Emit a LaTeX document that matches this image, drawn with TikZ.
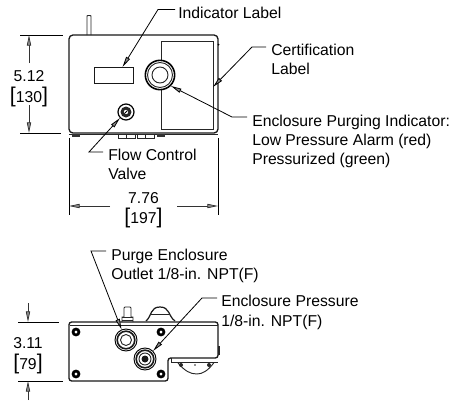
\documentclass[tikz,border=0pt]{standalone}
\usepackage{fontspec}
\setmainfont{Liberation Sans}
\usetikzlibrary{arrows.meta}
\tikzset{
  lbl/.style={inner sep=0pt,anchor=base west,font=\fontsize{11.8}{14}\selectfont},
  dimt/.style={inner sep=0pt,anchor=center,font=\fontsize{11.8}{14}\selectfont},
  tip/.style={-{Stealth[length=8pt,width=3.2pt,inset=0pt,open,fill=black!45]}},
  leader/.style={tip,line width=0.6pt},
  ext/.style={line width=0.7pt},
  dimline/.style={tip,line width=0.55pt,black!80},
  body/.style={line width=1pt,black!90},
  thin part/.style={line width=0.7pt,black!85},
}
\newcommand{\bk}[1]{{\fontsize{16}{16}\selectfont[}#1{\fontsize{16}{16}\selectfont]}}
\begin{document}
\begin{tikzpicture}[x=0.75pt,y=-0.75pt]
\useasboundingbox (0,0) rectangle (451,401);
% ---------- top view
\draw[thin part] (87,35) -- (87,16) -- (88,15.5) -- (90,15.5) -- (91,16) -- (91,35);
\draw[body,rounded corners=3pt] (69,133) -- (69,35) -- (218,35) -- (218,133) -- cycle;
\draw[thin part] (69,134.5) -- (218,134.5);
\fill[black!80] (72,134) rectangle (80,136.5);
\fill[black!80] (157,134) rectangle (165,136.5);
\draw[thin part] (118,134.5) rectangle (135,138) (137,134.5) rectangle (154,138) (126,134.5) -- (126,138) (145,134.5) -- (145,138);
\fill (218.5,44.5) circle (1);
\draw[thin part] (161,60) -- (161,41) -- (213,41) -- (213,129) -- (161,129) -- (161,90);
\node[draw,line width=0.7pt,black!90,minimum width=29.25pt,minimum height=12pt,inner sep=0pt] (ind) at (113.5,75) {};
\node[circle,draw,line width=1.2pt,minimum size=22pt,inner sep=0pt] (pi) at (160,75) {};
\draw[thin part] (160,75) circle (8);
\draw[thin part] (160,75) circle (12.5);
\node[circle,draw,line width=0.9pt,minimum size=12pt,inner sep=0pt] (fv) at (126,112) {};
\fill[black!85] (126,112) circle (5.5);
\fill[white] (126,112) circle (2.2);
\draw[line width=0.6pt] (124.5,113.5) -- (127.5,110.5);
% ---------- top view labels
\node[lbl] (tInd) at (178,18) {Indicator Label};
\node[lbl] (tCert) at (271,55) {Certification};
\node[lbl] at (271,74) {Label};
\node[lbl] (tEnc) at (252,126) {Enclosure Purging Indicator:};
\node[lbl] at (252,145) {Low Pressure Alarm (red)};
\node[lbl] at (252,164) {Pressurized (green)};
\node[lbl] (tFlow) at (108,160.5) {Flow Control};
\node[lbl] at (108,179.5) {Valve};
\coordinate (a1) at (175,9.5); \coordinate (a2) at (158,9.5); \coordinate (a3) at (122.5,67);
\draw[leader] (a1) -- (a2) -- (a3);
\coordinate (b1) at (266,47); \coordinate (b2) at (252,47); \coordinate (b3) at (213,87);
\draw[leader] (b1) -- (b2) -- (b3);
\coordinate (c1) at (247,117); \coordinate (c2) at (232,117);
\draw[leader] (c1) -- (c2) -- (pi.-45);
\coordinate (d1) at (103,152); \coordinate (d2) at (89,152);
\draw[leader] (d1) -- (d2) -- (fv.-135);
% ---------- dims top view
\coordinate (e1) at (20,35); \coordinate (e2) at (63,35); \coordinate (e3) at (20,133); \coordinate (e4) at (61,133);
\draw[ext] (e1) -- (e2) (e3) -- (e4);
\node[dimt] (d512) at (29,76) {5.12};
\node[dimt] (d130) at (29,96.5) {\bk{130}};
\coordinate (e5) at (29,35); \coordinate (e6) at (29,133);
\coordinate (e7) at (29,63); \coordinate (e8) at (29,105);
\draw[dimline] (e7) -- (e5);
\draw[dimline] (e8) -- (e6);
\coordinate (f1) at (69,138); \coordinate (f2) at (69,215); \coordinate (f3) at (218,138); \coordinate (f4) at (218,215);
\draw[ext] (f1) -- (f2) (f3) -- (f4);
\node[dimt] (d776) at (143.5,198) {7.76};
\node[dimt] (d197) at (143.5,218) {\bk{197}};
\coordinate (f5) at (69,206); \coordinate (f6) at (218,206);
\coordinate (f7) at (110,206); \coordinate (f8) at (177,206);
\draw[dimline] (f7) -- (f5);
\draw[dimline] (f8) -- (f6);
% ---------- bottom view
\draw[thin part] (122,322) -- (122,317) -- (124,317) -- (124,308) -- (125,307) -- (130,307) -- (131,308) -- (131,317) -- (133,317) -- (133,322);
\draw[thin part] (122,317) -- (133,317) (122,320) -- (133,320);
\draw[line width=0.9pt,black!90] (146,321) .. controls (152,316) and (150,307) .. (160,307) .. controls (170,307) and (168,316) .. (175,321);
\draw[thin part] (150,314) -- (170,314);
\draw[body,rounded corners=2pt] (172,358) -- (168,358) -- (168,381) -- (69,381) -- (69,322) -- (218,322) -- (218,358) -- (171,358);
\draw[thin part] (70,325.5) -- (218,325.5);
\draw[thin part] (171,358) -- (171,362.5) -- (218,362.5);
\draw[thin part] (178,363) .. controls (185,371) and (190,374) .. (197,374) .. controls (202,374) and (208,371) .. (214,362.5);
\fill[black!85] (181,365) circle (2) (195,365) circle (0.8) (209,365) circle (2);
\fill[black!85] (218,346) rectangle (219.5,355);
\foreach \x/\y in {76/332,161/332,76/374,161/374}{
  \draw[line width=2pt,black] (\x,\y) circle (3);
}
\node[circle,draw,line width=0.7pt,minimum size=16.5pt,inner sep=0pt] (p1) at (126,340) {};
\draw[line width=1.2pt,black!90] (126,340) circle (8.8);
\draw[thin part] (126,340) circle (5.5);
\node[circle,draw,line width=0.7pt,minimum size=16.5pt,inner sep=0pt] (p2) at (145,359) {};
\draw[line width=1.2pt,black!90] (145,359) circle (8.8);
\draw[thin part] (145,359) circle (6);
\fill[black!90] (145,359) circle (3.5);
% ---------- bottom labels
\node[lbl] (tPurge) at (111,260) {Purge Enclosure};
\node[lbl] at (111,279) {Outlet 1/8-in. NPT(F)};
\node[lbl] (tPress) at (221,306.7) {Enclosure Pressure};
\node[lbl] at (221,326) {1/8-in. NPT(F)};
\coordinate (g1) at (106,251); \coordinate (g2) at (91,251);
\draw[leader] (g1) -- (g2) -- (p1.113);
\coordinate (h1) at (217,298); \coordinate (h2) at (202,298);
\draw[leader] (h1) -- (h2) -- (p2.45);
% ---------- dims bottom
\coordinate (i1) at (18,322); \coordinate (i2) at (59,322); \coordinate (i3) at (18,381); \coordinate (i4) at (63,381);
\draw[ext] (i1) -- (i2) (i3) -- (i4);
\node[dimt] (d311) at (28,343) {3.11};
\node[dimt] (d79) at (28,363.5) {\bk{79}};
\coordinate (i5) at (28,303); \coordinate (i6) at (28,322); \coordinate (i7) at (28,400); \coordinate (i8) at (28,381);
\draw[dimline] (i5) -- (i6);
\draw[dimline] (i7) -- (i8);
\end{tikzpicture}
\end{document}
